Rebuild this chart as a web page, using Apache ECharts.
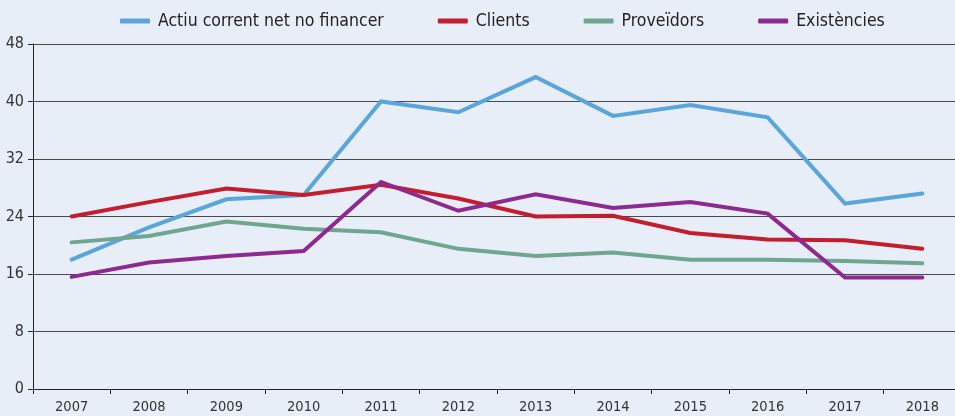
<!DOCTYPE html>
<html>
<head>
<meta charset="utf-8">
<script src="https://cdn.jsdelivr.net/npm/echarts@6/dist/echarts.min.js"></script>
<style>
  html, body { margin: 0; padding: 0; background: #e7eef8; overflow: hidden; }
  #chart { width: 975px; height: 416px; }
</style>
</head>
<body>
<div id="chart"></div>
<script>
// Years on the horizontal axis
const years = ['2007','2008','2009','2010','2011','2012','2013','2014','2015','2016','2017','2018'];

// Series values (days)
const actiuCorrent = [18.0, 22.5, 26.4, 27.0, 40.0, 38.5, 43.4, 38.0, 39.5, 37.8, 25.8, 27.2];
const clients      = [24.0, 26.0, 27.9, 27.0, 28.4, 26.5, 24.0, 24.1, 21.7, 20.8, 20.7, 19.5];
const proveidors   = [20.4, 21.3, 23.3, 22.3, 21.8, 19.5, 18.5, 19.0, 18.0, 18.0, 17.8, 17.5];
const existencies  = [15.6, 17.6, 18.5, 19.2, 28.8, 24.8, 27.1, 25.2, 26.0, 24.4, 15.5, 15.5];

// Y axis range and step
const yMin = 0, yMax = 48, yStep = 8;

const FONT = "'DejaVu Sans Condensed', 'Liberation Sans Narrow', 'Liberation Sans', sans-serif";

const seriesDefs = [
  { name: 'Actiu corrent net no financer', data: actiuCorrent, color: '#5aa5d9' },
  { name: 'Clients', data: clients, color: '#c41d2d' },
  { name: 'Proveïdors', data: proveidors, color: '#6fa68f' },
  { name: 'Existències', data: existencies, color: '#8e2a8f' }
];

const chart = echarts.init(document.getElementById('chart'), null, { renderer: 'canvas' });

chart.setOption({
  backgroundColor: '#e7eef8',
  animation: false,
  legend: {
    top: 7,
    left: 115,
    itemWidth: 30,
    itemHeight: 5,
    itemGap: 54,
    icon: 'roundRect',
    textStyle: { fontFamily: FONT, fontSize: 17.5, color: '#222', padding: [0, 0, 0, 3] },
    data: seriesDefs.map(s => s.name)
  },
  grid: { left: 33, top: 44, width: 928, height: 345, containLabel: false },
  xAxis: {
    type: 'category',
    data: years,
    boundaryGap: true,
    axisLine: { lineStyle: { color: '#222', width: 1 } },
    axisTick: { show: true, length: 5, lineStyle: { color: '#222' } },
    axisLabel: { fontFamily: FONT, fontSize: 14.5, color: '#333', margin: 11 },
    splitLine: { show: false }
  },
  yAxis: {
    type: 'value',
    min: yMin,
    max: yMax,
    interval: yStep,
    axisLine: { show: true, lineStyle: { color: '#222', width: 1 } },
    axisTick: { show: true, length: 5, lineStyle: { color: '#222' } },
    axisLabel: { fontFamily: FONT, fontSize: 16, color: '#333', margin: 9 },
    splitLine: { show: true, lineStyle: { color: '#4a4a4a', width: 1 } }
  },
  series: seriesDefs.map(s => ({
    name: s.name,
    type: 'line',
    data: s.data,
    symbol: 'none',
    smooth: false,
    lineStyle: { color: s.color, width: 4, cap: 'round', join: 'miter' },
    itemStyle: { color: s.color }
  }))
});
</script>
</body>
</html>
